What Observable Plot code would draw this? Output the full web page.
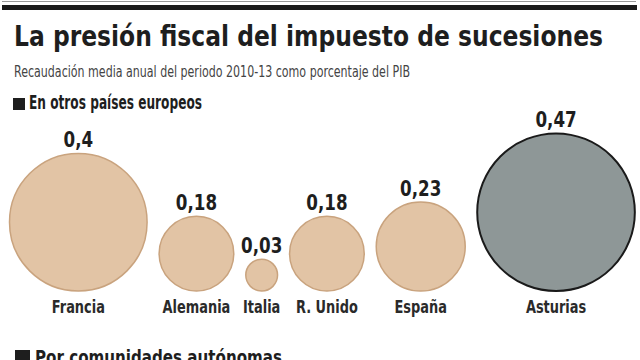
<!DOCTYPE html>
<html>
<head>
<meta charset="utf-8">
<script src="https://cdn.jsdelivr.net/npm/d3@7"></script>
<script src="https://cdn.jsdelivr.net/npm/@observablehq/plot@0.6"></script>
<style>
  html, body { margin: 0; padding: 0; background: #fff; width: 640px; height: 360px; overflow: hidden; }
  body { position: relative; font-family: "DejaVu Sans", sans-serif; color: #222; }
  .rule1 { position: absolute; left: 2px; right: 4px; top: 1px; height: 1px; background: #999; }
  .rule2 { position: absolute; left: 2px; right: 3px; top: 5px; height: 5px; background: #1a1a1a; }
  .fit { position: absolute; white-space: nowrap; transform-origin: 0 0; }
  .title { left: 14px; top: 19px; font-size: 27.5px; font-weight: bold; color: #1e1e1e; line-height: 34px; }
  .subtitle { left: 14px; top: 62px; font-size: 16px; color: #444; line-height: 20px; }
  .section { font-size: 19px; font-weight: bold; color: #1e1e1e; line-height: 22px; }
  .sq { position: absolute; width: 12px; height: 12px; background: #1e1e1e; }
  #chart { position: absolute; left: 0; top: 100px; }
</style>
</head>
<body>
<div class="rule1"></div>
<div class="rule2"></div>
<div class="fit title" data-w="589">La presión fiscal del impuesto de sucesiones</div>
<div class="fit subtitle" data-w="396">Recaudación media anual del periodo 2010-13 como porcentaje del PIB</div>
<div class="sq" style="left:13px;top:98px"></div>
<div class="fit section" style="left:29px;top:91px" data-w="173">En otros países europeos</div>
<div id="chart"></div>
<div class="sq" style="left:15px;top:350px;width:15px;height:15px"></div>
<div class="fit section" style="left:35px;top:346px" data-w="247">Por comunidades autónomas</div>
<script>
const countries = ["Francia", "Alemania", "Italia", "R. Unido", "España", "Asturias"];
const values = [0.4, 0.18, 0.03, 0.18, 0.23, 0.47];
const groups = ["europa", "europa", "europa", "europa", "europa", "asturias"];

// fit condensed headline widths
document.querySelectorAll(".fit").forEach(el => {
  const w = el.getBoundingClientRect().width;
  el.style.transform = `scaleX(${(+el.dataset.w) / w})`;
});

const W = 640, H = 225, top0 = 100;
const rOpts = {type: "linear", domain: [0, 0.5], range: [11.6, 83.1]};
const rScale = Plot.scale({r: rOpts});
const gap = 12, startX = 9, baseY = 290.5 - top0;

let cursor = startX;
const data = countries.map((name, i) => {
  const r = rScale.apply(values[i]);
  const cx = cursor + r;
  cursor += 2 * r + gap;
  return {name, value: values[i], group: groups[i], cx, r, cy: baseY - r};
});

const fmt = v => String(v).replace(".", ",");

const chart = Plot.plot({
  width: W,
  height: H,
  margin: 0,
  x: {type: "identity", axis: null},
  y: {type: "identity", axis: null},
  r: rOpts,
  color: {type: "ordinal", domain: ["europa", "asturias"], range: ["#e2c4a5", "#8e9797"]},
  style: {fontFamily: "'DejaVu Sans', sans-serif", background: "transparent", overflow: "visible"},
  marks: [
    Plot.dot(data, {x: "cx", y: "cy", r: "value", fill: "group",
      stroke: d => d.group === "asturias" ? "#1a1a1a" : "#c9a37e",
      strokeWidth: d => d.group === "asturias" ? 2 : 1.5, fillOpacity: 1}),
    Plot.text(data, {x: "cx", y: d => d.cy - d.r - 6, text: d => fmt(d.value), lineAnchor: "bottom",
      fontSize: 22, fontWeight: "bold", fill: "#1e1e1e"}),
    Plot.text(data, {x: "cx", y: baseY + 21.5, text: "name", lineAnchor: "bottom",
      fontSize: 17, fontWeight: "bold", fill: "#2a2a2a"})
  ]
});
document.getElementById("chart").appendChild(chart);

// condense chart texts
chart.querySelectorAll("text").forEach(t => {
  const len = t.getComputedTextLength();
  if (len > 0) {
    t.setAttribute("textLength", (len * 0.76).toFixed(1));
    t.setAttribute("lengthAdjust", "spacingAndGlyphs");
  }
});
</script>
</body>
</html>
